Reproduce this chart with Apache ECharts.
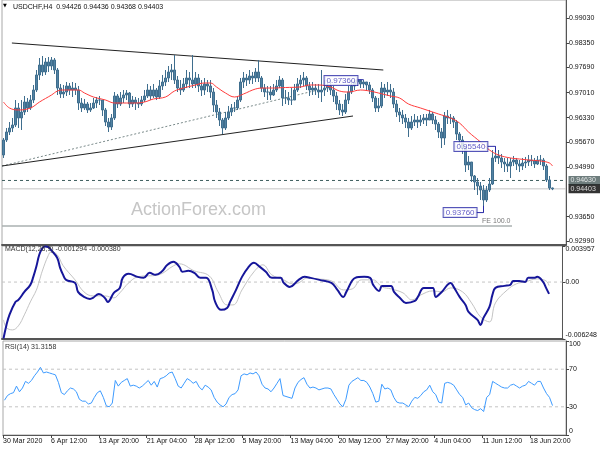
<!DOCTYPE html>
<html><head><meta charset="utf-8">
<script src="https://cdn.jsdelivr.net/npm/echarts@6/dist/echarts.min.js"></script>
<style>html,body{margin:0;padding:0;background:#fff}#c{width:600px;height:450px}</style>
</head><body><div id="c"></div>
<script>
// ---------- DATA ----------
const firstOpen = 0.95320;
const closes = [
0.95726,0.95943,0.96051,0.96132,0.96593,0.96322,0.96484,0.96755,0.96593,0.96809,
0.97080,0.97487,0.97757,0.97568,0.97839,0.97730,0.97893,0.97622,0.97134,0.96972,
0.97026,0.97189,0.97080,0.97134,0.97080,0.96728,0.96593,0.96701,0.96539,0.96593,
0.96728,0.96809,0.96809,0.96539,0.96213,0.96078,0.96322,0.96918,0.96701,0.96864,
0.96945,0.96999,0.96701,0.96809,0.96728,0.96701,0.96809,0.96918,0.97080,0.96918,
0.97080,0.96891,0.97189,0.97297,0.97405,0.97568,0.97622,0.97351,0.97134,0.97080,
0.97243,0.97405,0.97351,0.97243,0.97405,0.97189,0.97080,0.97243,0.97189,0.97026,
0.96674,0.96484,0.96268,0.96051,0.96322,0.96484,0.96593,0.96593,0.96809,0.97297,
0.97405,0.97351,0.97459,0.97405,0.97568,0.97405,0.97134,0.97026,0.97026,0.96945,
0.97080,0.97189,0.97351,0.96864,0.96864,0.96809,0.96809,0.97080,0.97243,0.97351,
0.97405,0.97189,0.97080,0.97134,0.97080,0.97026,0.97080,0.97134,0.97189,0.97080,
0.96918,0.96701,0.96539,0.96484,0.96809,0.97026,0.97189,0.97297,0.97351,0.97243,
0.97297,0.97216,0.97080,0.96864,0.96593,0.96647,0.97134,0.97026,0.97080,0.97026,
0.96701,0.96484,0.96403,0.96322,0.96213,0.96051,0.96213,0.96268,0.96213,0.96268,
0.96322,0.96268,0.96430,0.96268,0.96159,0.95943,0.95780,0.96376,0.96322,0.96322,
0.96213,0.95888,0.95726,0.95509,0.95049,0.95130,0.94751,0.94588,0.94480,0.94372,
0.94101,0.94372,0.94534,0.95239,0.95293,0.95239,0.95130,0.95076,0.95022,0.95130,
0.95184,0.95076,0.95022,0.95103,0.95130,0.95184,0.95157,0.95076,0.95184,0.95184,
0.95022,0.94643,0.94426,0.94403];
const highs = [
0.95780,0.96051,0.96213,0.96322,0.96809,0.96728,0.96809,0.96918,0.96864,0.96945,
0.97216,0.97622,0.97947,0.98001,0.97947,0.97974,0.97974,0.97947,0.97676,0.97243,
0.97216,0.97297,0.97270,0.97297,0.97270,0.97189,0.96864,0.96837,0.96755,0.96728,
0.96864,0.96891,0.96918,0.96809,0.96593,0.96322,0.96430,0.97026,0.96972,0.97026,
0.97080,0.97080,0.97026,0.96918,0.96891,0.96864,0.96918,0.97080,0.97243,0.97189,
0.97243,0.97134,0.97351,0.97487,0.97622,0.97730,0.97784,0.98028,0.97459,0.97351,
0.97405,0.97622,0.97568,0.98028,0.97568,0.97514,0.97351,0.97405,0.97351,0.97351,
0.97134,0.96809,0.96593,0.96322,0.96484,0.96647,0.96701,0.96755,0.96918,0.97405,
0.97568,0.97514,0.97622,0.97568,0.97676,0.97893,0.97459,0.97243,0.97189,0.97189,
0.97243,0.97351,0.97459,0.97405,0.97080,0.97026,0.97134,0.97243,0.97405,0.97487,
0.97568,0.97459,0.97297,0.97297,0.97243,0.97243,0.97622,0.97351,0.97351,0.97351,
0.97189,0.97026,0.96809,0.96701,0.96972,0.97189,0.97351,0.97351,0.97324,0.97297,
0.97360,0.97297,0.97297,0.97134,0.96918,0.96864,0.97297,0.97243,0.97297,0.97243,
0.97134,0.96809,0.96593,0.96539,0.96430,0.96322,0.96376,0.96430,0.96376,0.96403,
0.96430,0.96430,0.96539,0.96484,0.96376,0.96213,0.96051,0.96484,0.96539,0.96430,
0.96376,0.96268,0.95943,0.95834,0.95536,0.95293,0.95130,0.94778,0.94697,0.94588,
0.94507,0.94480,0.94697,0.95455,0.95554,0.95455,0.95347,0.95239,0.95239,0.95239,
0.95293,0.95239,0.95184,0.95239,0.95266,0.95320,0.95320,0.95239,0.95293,0.95320,
0.95239,0.95076,0.94751,0.94436];
const lows = [
0.95239,0.95672,0.95861,0.95943,0.96078,0.96051,0.95997,0.96403,0.96484,0.96539,
0.96728,0.97026,0.97351,0.97459,0.97487,0.97568,0.97622,0.97514,0.96945,0.96864,
0.96864,0.96918,0.96945,0.96891,0.96945,0.96539,0.96484,0.96539,0.96457,0.96484,
0.96566,0.96593,0.96674,0.96376,0.96105,0.95943,0.95997,0.96268,0.96593,0.96647,
0.96728,0.96809,0.96593,0.96620,0.96539,0.96593,0.96647,0.96755,0.96864,0.96809,
0.96864,0.96809,0.96837,0.97080,0.97189,0.97297,0.97351,0.97243,0.97026,0.96945,
0.97026,0.97134,0.97134,0.97134,0.97134,0.97026,0.96918,0.96945,0.97026,0.96864,
0.96484,0.96322,0.96105,0.95888,0.95997,0.96268,0.96376,0.96484,0.96539,0.96755,
0.97134,0.97189,0.97243,0.97243,0.97297,0.97297,0.97026,0.96891,0.96809,0.96809,
0.96918,0.97026,0.97134,0.96647,0.96701,0.96674,0.96674,0.96809,0.97026,0.97134,
0.97189,0.97080,0.96918,0.96945,0.96945,0.96864,0.96755,0.96918,0.97026,0.96945,
0.96755,0.96539,0.96403,0.96376,0.96430,0.96701,0.96972,0.97080,0.97189,0.97134,
0.97134,0.97080,0.96972,0.96755,0.96484,0.96484,0.96593,0.96864,0.96918,0.96864,
0.96593,0.96349,0.96213,0.96159,0.96051,0.95807,0.95997,0.96105,0.96051,0.96105,
0.96159,0.96105,0.96268,0.96159,0.95997,0.95780,0.95509,0.95591,0.96159,0.96159,
0.96051,0.95726,0.95591,0.95347,0.94859,0.94913,0.94588,0.94372,0.94236,0.94101,
0.93760,0.94047,0.94318,0.94507,0.95130,0.95076,0.94968,0.94859,0.94859,0.94697,
0.95022,0.94913,0.94859,0.94913,0.94968,0.95022,0.95022,0.94968,0.95049,0.95049,
0.94913,0.94588,0.94372,0.94368];

const maBars = [0,2,5,9,12,16,18,20,25,27,30,34,37,40,44,47,50,54,57,60,64,67,69,71,74,77,80,84,87,90,94,99,102,105,109,112,115,119,122,125,129,132,135,139,142,145,149,152,155,159,162,165,169,172,175,179,182,183];
const maVals = [0.96755,0.96593,0.96539,0.96593,0.96755,0.96945,0.97053,0.97080,0.97080,0.96999,0.96891,0.96809,0.96728,0.96728,0.96728,0.96755,0.96837,0.96891,0.97053,0.97134,0.97216,0.97270,0.97270,0.97162,0.96999,0.96891,0.96972,0.97107,0.97134,0.97134,0.97148,0.97162,0.97216,0.97216,0.97162,0.97053,0.97026,0.97080,0.97053,0.96999,0.96918,0.96864,0.96701,0.96593,0.96512,0.96430,0.96322,0.96186,0.95943,0.95672,0.95455,0.95320,0.95239,0.95211,0.95184,0.95157,0.95103,0.95022];

const macdBars = [0,1,2,4,5,7,9,10,11,12,13,14,15,16,18,19,20,21,24,25,27,29,30,32,34,35,37,39,40,42,45,47,49,51,53,55,57,59,60,62,64,66,68,70,71,73,75,76,78,80,82,84,86,88,90,93,94,96,99,101,103,106,110,112,114,115,118,121,123,124,126,127,130,131,133,135,138,139,141,144,145,147,150,151,153,155,156,159,160,161,163,164,165,168,170,171,173,175,176,178,179,181,182,183];
const macdVals = [-0.00620,-0.00470,-0.00360,-0.00218,-0.00196,-0.00108,-0.00031,0.00057,0.00167,0.00299,0.00370,0.00390,0.00385,0.00350,0.00266,0.00156,0.00079,0.00024,-0.00009,-0.00108,-0.00163,-0.00185,-0.00174,-0.00130,-0.00174,-0.00218,-0.00119,-0.00064,0.00046,0.00090,0.00057,0.00046,0.00101,0.00079,0.00112,0.00189,0.00222,0.00167,0.00112,0.00123,0.00101,0.00046,0.00046,-0.00086,-0.00218,-0.00305,-0.00284,-0.00218,-0.00086,0.00057,0.00156,0.00211,0.00167,0.00112,0.00046,0.00046,-0.00009,-0.00053,0.00024,0.00057,0.00046,0.00024,-0.00009,-0.00086,-0.00163,-0.00108,0.00046,0.00057,0.00046,-0.00031,-0.00097,-0.00042,-0.00042,-0.00108,-0.00174,-0.00229,-0.00207,-0.00163,-0.00064,-0.00064,-0.00163,-0.00108,-0.00009,-0.00053,-0.00163,-0.00251,-0.00327,-0.00415,-0.00470,-0.00393,-0.00273,-0.00141,-0.00064,-0.00042,-0.00031,0.00013,0.00013,0.00002,0.00046,0.00046,0.00057,0.00002,-0.00064,-0.001294];
const sigBars = [0,1,3,5,7,9,11,12,13,15,16,18,20,24,27,30,34,37,39,42,45,52,57,59,64,69,72,75,77,80,84,87,90,94,97,99,102,105,110,114,117,120,124,127,130,134,137,140,144,147,150,154,157,160,163,165,169,172,175,179,182,183];
const sigVals = [-0.00415,-0.00500,-0.00525,-0.00480,-0.00360,-0.00218,-0.00090,0.00010,0.00120,0.00290,0.00332,0.00300,0.00180,0.00024,-0.00108,-0.00152,-0.00152,-0.00174,-0.00119,-0.00009,0.00057,0.00079,0.00178,0.00200,0.00123,0.00068,-0.00108,-0.00251,-0.00251,-0.00086,0.00112,0.00189,0.00079,0.00024,-0.00020,-0.00009,0.00046,0.00035,0.00013,-0.00086,-0.00075,0.00024,0.00024,-0.00053,-0.00075,-0.00119,-0.00196,-0.00141,-0.00097,-0.00108,-0.00064,-0.00108,-0.00229,-0.00382,-0.00437,-0.00229,-0.00086,-0.00020,0.00002,0.00035,0.00013,-0.00038];

const rsi = [
37,42,44,45,52,46,50,57,55,58,
63,67,72,66,67,66,65,64,56,45,
43,47,50,49,46,38,36,36,33,34,
40,45,47,40,31,30,34,58,52,56,
58,60,52,53,52,50,52,55,58,53,
57,51,60,61,63,66,67,60,52,50,
55,60,58,55,57,51,48,53,51,48,
40,35,32,30,33,40,43,44,48,63,
65,64,66,65,67,63,54,50,49,46,
50,55,60,42,41,40,39,50,56,59,
61,54,50,51,50,48,49,50,50,49,
43,38,33,30,38,53,57,59,61,58,
58,56,51,44,35,36,54,49,50,48,
40,35,34,34,32,30,36,40,39,42,
46,48,53,46,43,35,34,55,56,55,
53,48,43,40,32,34,29,27,26,28,
25,40,43,57,55,53,51,50,50,53,
54,52,50,52,53,57,55,53,57,57,
50,44,40,31.3158];

const slotCount = 188;
const xLabelBars = [0,16,32,48,64,80,96,112,128,144,160,176];
const xLabels = ['30 Mar 2020','6 Apr 12:00','13 Apr 20:00','21 Apr 04:00','28 Apr 12:00','5 May 20:00','13 May 04:00','20 May 12:00','27 May 20:00','4 Jun 04:00','11 Jun 12:00','18 Jun 20:00'];
const priceTicks = [0.99030,0.98350,0.97690,0.97010,0.96330,0.95670,0.94990,0.93650,0.92990];
const macdTicks = [-0.006248,0,0.003957];
const rsiTicks = [0,30,70,100];

// annotations (bar position, price)
const upperTrend = [[3.3,0.98353],[127.1,0.97622]];
const lowerTrend = [[0,0.95022],[117,0.96376]];
const dashTrend = [[0,0.95022],[105.3,0.97080]];
const feLevel = 0.93397, feEnd = 170;
const levelDashed = 0.94630, levelBid = 0.94403;
const swingLabels = [
  {text:'0.97360', pos:[113,0.97338]},
  {text:'0.95540', pos:[156.3,0.95550]},
  {text:'0.93760', pos:[152.7,0.93762]}
];
const swingLinks = [
  [[118.3,0.97360],[120.5,0.97360]],
  [[161.7,0.95554],[164.5,0.95554],[164.5,0.95401]],
  [[158,0.93760],[160.5,0.93760],[160.5,0.93942]]
];

// ---------- CHART ----------
const cats = Array.from({length: slotCount}, (_, i) => String(i));
const candleData = closes.map((c, i) => [i === 0 ? firstOpen : closes[i-1], c, lows[i], highs[i]]);
const zip = (a, b) => a.map((v, i) => [v, b[i]]);
const FONT = 'Liberation Sans';
const lbl = {fontFamily: FONT, fontSize: 7, color: '#111'};

const chart = echarts.init(document.getElementById('c'), null, {renderer: 'canvas'});
const grids = [
  {left: 2, right: 34, top: 0, height: 245},
  {left: 2, right: 34, top: 246, height: 93},
  {left: 2, right: 34, top: 341, height: 94}
];
grids.forEach(g => { g.show = true; g.borderColor = '#a8a8a8'; g.borderWidth = 1; });

const catAxis = (gi, lineW) => ({
  type: 'category', gridIndex: gi, data: cats, position: 'bottom', boundaryGap: true,
  axisLine: {show: true, onZero: false, lineStyle: {color: '#555', width: lineW}},
  axisTick: {show: false}, axisLabel: {show: false}, splitLine: {show: false}
});
const valXAxis = (gi, showLabels) => ({
  type: 'value', gridIndex: gi, min: 0, max: slotCount, position: 'bottom', show: true,
  axisLine: {show: false, onZero: false}, splitLine: {show: false},
  axisTick: {show: showLabels, customValues: xLabelBars, length: 3, lineStyle: {color: '#444'}},
  axisLabel: {show: showLabels, customValues: xLabelBars, align: 'left', margin: 3, ...lbl,
    formatter: v => xLabels[xLabelBars.indexOf(Math.round(v))] || ''}
});
const hLine = (y, x1, style, z) => ({type: 'line', xAxisIndex: 1, yAxisIndex: 0, data: [[0, y], [x1, y]],
  symbol: 'none', silent: true, z: z, lineStyle: style});
const zeroLine = (xi, yi, y) => ({type: 'line', xAxisIndex: xi, yAxisIndex: yi, data: [[0, y], [slotCount, y]],
  symbol: 'none', silent: true, z: 1, lineStyle: {color: '#c4c4c4', width: 1, type: [3, 3]}});

const tagLabel = (text, bg) => ({show: true, position: 'right', distance: 2, formatter: text,
  fontFamily: FONT, fontSize: 7, color: '#fff', backgroundColor: bg, padding: [1, 5, 1, 2]});

const option = {
  animation: false,
  backgroundColor: '#fff',
  grid: grids,
  title: [
    {text: '▼', left: 3, top: 3, padding: 0, textStyle: {fontFamily: 'DejaVu Sans', fontSize: 5, color: '#000', fontWeight: 'normal'}},
    {text: 'USDCHF,H4  0.94426 0.94436 0.94368 0.94403', left: 13, top: 4, padding: 0, textStyle: {fontFamily: FONT, fontSize: 7, color: '#111', fontWeight: 'normal'}},
    {text: 'MACD(12,26,9) -0.001294 -0.000380', left: 5, top: 246, padding: 0, textStyle: {fontFamily: FONT, fontSize: 7, color: '#333', fontWeight: 'normal'}},
    {text: 'RSI(14) 31.3158', left: 5, top: 344, padding: 0, textStyle: {fontFamily: FONT, fontSize: 7, color: '#333', fontWeight: 'normal'}},
    {text: 'ActionForex.com', left: 131, top: 201, padding: 0, textStyle: {fontFamily: FONT, fontSize: 18, color: '#c6c6c6', fontWeight: 'normal'}}
  ],
  xAxis: [
    catAxis(0, 2), valXAxis(0, false),
    catAxis(1, 2), valXAxis(1, false),
    catAxis(2, 1), valXAxis(2, true)
  ],
  yAxis: [
    {type: 'value', gridIndex: 0, position: 'right', min: 0.92882, max: 0.99518, scale: true,
     axisLine: {show: true, onZero: false, lineStyle: {color: '#555'}}, splitLine: {show: false},
     axisTick: {show: true, customValues: priceTicks, length: 3, lineStyle: {color: '#444'}},
     axisLabel: {customValues: priceTicks, margin: 3, ...lbl, formatter: v => v.toFixed(5)}},
    {type: 'value', gridIndex: 1, position: 'right', min: -0.006248, max: 0.003957,
     axisLine: {show: true, onZero: false, lineStyle: {color: '#555'}}, splitLine: {show: false},
     axisTick: {show: true, customValues: macdTicks, length: 3, lineStyle: {color: '#444'}},
     axisLabel: {customValues: macdTicks, margin: 3, ...lbl, verticalAlignMinLabel: 'bottom', verticalAlignMaxLabel: 'top',
       formatter: v => v === 0 ? '0.00' : v.toFixed(6)}},
    {type: 'value', gridIndex: 2, position: 'right', min: 0, max: 100,
     axisLine: {show: true, onZero: false, lineStyle: {color: '#555'}}, splitLine: {show: false},
     axisTick: {show: true, customValues: rsiTicks, length: 3, lineStyle: {color: '#444'}},
     axisLabel: {customValues: rsiTicks, margin: 3, ...lbl, verticalAlignMinLabel: 'bottom', verticalAlignMaxLabel: 'top'}}
  ],
  series: [
    hLine(feLevel, feEnd, {color: '#aab0b0', width: 1.5}, 1),
    hLine(levelBid, slotCount, {color: '#c4c4c4', width: 1}, 1),
    hLine(levelDashed, slotCount, {color: '#3f5f5f', width: 1, type: [3, 3]}, 1),
    {type: 'line', xAxisIndex: 1, yAxisIndex: 0, data: dashTrend, symbol: 'none', silent: true, z: 2,
     lineStyle: {color: '#7a8a8a', width: 1, type: [2, 2]}},
    {type: 'line', xAxisIndex: 1, yAxisIndex: 0, data: upperTrend, symbol: 'none', silent: true, z: 2,
     lineStyle: {color: '#222', width: 1}},
    {type: 'line', xAxisIndex: 1, yAxisIndex: 0, data: lowerTrend, symbol: 'none', silent: true, z: 2,
     lineStyle: {color: '#222', width: 1}},
    {type: 'candlestick', xAxisIndex: 0, yAxisIndex: 0, data: candleData, barWidth: 2, z: 3,
     itemStyle: {color: '#5282a3', color0: '#5282a3', borderColor: '#3f6e8e', borderColor0: '#3f6e8e', borderWidth: 1}},
    {type: 'line', xAxisIndex: 0, yAxisIndex: 0, data: zip(maBars, maVals), symbol: 'none', smooth: 0.4, z: 4,
     lineStyle: {color: '#ff3b3b', width: 1}},
    ...swingLinks.map(l => ({type: 'line', xAxisIndex: 1, yAxisIndex: 0, data: l, symbol: 'none', silent: true, z: 5,
      lineStyle: {color: '#2a2aa8', width: 1}})),
    // text tags anchored at data coordinates
    {type: 'scatter', xAxisIndex: 1, yAxisIndex: 0, z: 6, symbolSize: 1, clip: false,
     itemStyle: {color: 'rgba(0,0,0,0)'},
     data: [
       ...swingLabels.map(s => ({value: s.pos, label: {show: true, position: 'inside', formatter: s.text,
         fontFamily: FONT, fontSize: 8, color: '#3a32b8', backgroundColor: '#fff', borderColor: '#2a2aa8', borderWidth: 1, padding: [1, 2, 0, 2]}})),
       {value: [feEnd, feLevel], label: {show: true, position: 'left', distance: 1, offset: [0, -5], formatter: 'FE 100.0',
         fontFamily: FONT, fontSize: 7, color: '#555'}},
       {value: [slotCount, levelDashed], label: tagLabel('0.94630', '#4a5d5d')},
       {value: [slotCount, levelBid], label: tagLabel('0.94403', '#000')}
     ]},
    // MACD
    zeroLine(3, 1, 0),
    {type: 'line', xAxisIndex: 2, yAxisIndex: 1, data: zip(sigBars, sigVals), symbol: 'none', smooth: 0.4, z: 2,
     lineStyle: {color: '#c4c4c4', width: 1}},
    {type: 'line', xAxisIndex: 2, yAxisIndex: 1, data: zip(macdBars, macdVals), symbol: 'none', smooth: 0.4, z: 3,
     lineStyle: {color: '#16169a', width: 2}},
    // RSI
    zeroLine(5, 2, 70),
    zeroLine(5, 2, 30),
    {type: 'line', xAxisIndex: 4, yAxisIndex: 2, data: rsi, symbol: 'none', z: 3,
     lineStyle: {color: '#3d9bff', width: 1}}
  ]
};
chart.setOption(option);
</script>
</body></html>
